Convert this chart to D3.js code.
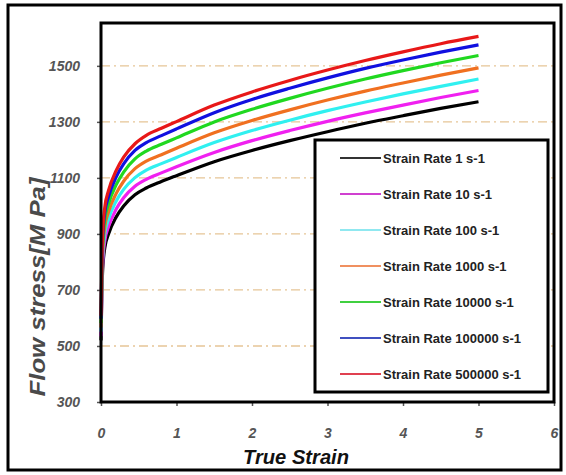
<!DOCTYPE html>
<html>
<head>
<meta charset="utf-8">
<script src="https://cdn.jsdelivr.net/npm/d3@7"></script>
<style>
  body { margin: 0; background: #fff; }
  svg text { font-family: "Liberation Sans", Arial, sans-serif; }
</style>
</head>
<body>
<div id="canvas"></div>
<script>
"use strict"

let strain = [0, 0.02, 0.05, 0.1, 0.2, 0.3, 0.45, 0.6, 0.8, 1, 1.5, 2, 2.5, 3, 3.5, 4, 4.5, 5]

/* flow stress for each strain rate (MPa) */
let rate1      = [520, 760, 850, 900, 960, 1000, 1040, 1064, 1087, 1108, 1158, 1198, 1233, 1265, 1295, 1322, 1348, 1372]
let rate10     = [535, 782, 875, 926, 988, 1029, 1070, 1095, 1118, 1140, 1191, 1233, 1269, 1302, 1332, 1360, 1387, 1412]
let rate100    = [551, 805, 900, 953, 1017, 1059, 1101, 1128, 1151, 1173, 1226, 1269, 1306, 1340, 1371, 1400, 1427, 1453]
let rate1000   = [566, 827, 925, 979, 1044, 1088, 1133, 1160, 1183, 1206, 1261, 1305, 1343, 1378, 1410, 1439, 1467, 1493]
let rate10000  = [582, 851, 952, 1008, 1075, 1121, 1168, 1196, 1220, 1243, 1300, 1345, 1384, 1420, 1453, 1483, 1511, 1537]
let rate100000 = [597, 872, 976, 1033, 1103, 1150, 1198, 1226, 1251, 1275, 1333, 1380, 1420, 1457, 1491, 1521, 1549, 1575]
let rate500000 = [608, 889, 995, 1055, 1126, 1174, 1222, 1252, 1277, 1301, 1360, 1407, 1448, 1485, 1519, 1550, 1579, 1605]

let seriesNames = ["Strain Rate 1 s-1", "Strain Rate 10 s-1", "Strain Rate 100 s-1", "Strain Rate 1000 s-1",
                   "Strain Rate 10000 s-1", "Strain Rate 100000 s-1", "Strain Rate 500000 s-1"]
let seriesValues = [rate1, rate10, rate100, rate1000, rate10000, rate100000, rate500000]
let seriesColors = ["#000000", "#f020f0", "#30f0f0", "#f07020", "#20d820", "#1010e0", "#e81818"]
let legendColors = ["#333333", "#d040d0", "#90e8f0", "#f09060", "#40d040", "#4050c0", "#e04050"]

let xTicks = [0, 1, 2, 3, 4, 5, 6]
let yTicks = [300, 500, 700, 900, 1100, 1300, 1500]
let gridValues = [500, 700, 900, 1100, 1300, 1500]

let width = 566
let height = 475

let drawing = d3.select("#canvas")
    .append("svg")
    .attr("width", width)
    .attr("height", height)

/* outer frame */
drawing.append("rect")
    .attr("x", 8)
    .attr("y", 5)
    .attr("width", 553)
    .attr("height", 465)
    .attr("fill", "white")
    .attr("stroke", "black")
    .attr("stroke-width", 3)

let plotLeft = 101, plotRight = 554, plotTop = 23, plotBottom = 402

let x = d3.scaleLinear().domain([0, 6]).range([plotLeft, plotRight])
let y = d3.scaleLinear().domain([300, 1653]).range([plotBottom, plotTop])

/* dash-dot grid lines */
drawing.selectAll(".grid")
    .data(gridValues)
    .enter()
    .append("line")
    .attr("x1", plotLeft)
    .attr("x2", plotRight)
    .attr("y1", d => y(d))
    .attr("y2", d => y(d))
    .attr("stroke", "#e6c596")
    .attr("stroke-width", 1.3)
    .attr("stroke-dasharray", "9,4,2,4")

/* ticks + labels via d3 axes */
let xAxis = drawing.append("g")
    .attr("transform", "translate(0," + plotBottom + ")")
    .call(d3.axisBottom(x).tickValues(xTicks).tickSize(4).tickPadding(22).tickFormat(d3.format("d")))
let yAxis = drawing.append("g")
    .attr("transform", "translate(" + plotLeft + ",0)")
    .call(d3.axisLeft(y).tickValues(yTicks).tickSize(4).tickPadding(17).tickFormat(d3.format("d")))

xAxis.select(".domain").remove()
yAxis.select(".domain").remove()
drawing.selectAll(".tick line").attr("stroke", "#555").attr("stroke-width", 1.5)
drawing.selectAll(".tick text")
    .attr("font-size", 14)
    .attr("font-style", "italic")
    .attr("font-weight", "bold")
    .attr("fill", "#555")

/* curves */
let line = d3.line()
    .x((d, i) => x(strain[i]))
    .y(d => y(d))
    .curve(d3.curveMonotoneX)

drawing.selectAll(".curve")
    .data(seriesValues)
    .enter()
    .append("path")
    .attr("d", d => line(d))
    .attr("fill", "none")
    .attr("stroke", (d, i) => seriesColors[i])
    .attr("stroke-width", 3.2)

/* plot frame */
drawing.append("rect")
    .attr("x", plotLeft)
    .attr("y", plotTop)
    .attr("width", plotRight - plotLeft)
    .attr("height", plotBottom - plotTop)
    .attr("fill", "none")
    .attr("stroke", "black")
    .attr("stroke-width", 3)

/* legend */
let legendX = 315, legendY = 140
drawing.append("rect")
    .attr("x", legendX)
    .attr("y", legendY)
    .attr("width", 233)
    .attr("height", 252)
    .attr("fill", "white")
    .attr("stroke", "black")
    .attr("stroke-width", 3)

let legendRows = drawing.selectAll(".legendRow")
    .data(seriesNames)
    .enter()
    .append("g")
    .attr("transform", (d, i) => "translate(0," + (158 + i * 36) + ")")

legendRows.append("line")
    .attr("x1", 340)
    .attr("x2", 381)
    .attr("y1", 0)
    .attr("y2", 0)
    .attr("stroke", (d, i) => legendColors[i])
    .attr("stroke-width", 2.2)

legendRows.append("text")
    .attr("x", 383)
    .attr("y", 4.5)
    .attr("font-size", 13)
    .attr("font-weight", "bold")
    .attr("fill", "#222")
    .text(d => d)

/* axis titles */
drawing.append("text")
    .attr("transform", "translate(45,287) rotate(-90)")
    .attr("text-anchor", "middle")
    .attr("font-size", 22)
    .attr("font-style", "italic")
    .attr("font-weight", "bold")
    .attr("fill", "#4a4a4a")
    .attr("textLength", 219)
    .attr("lengthAdjust", "spacingAndGlyphs")
    .text("Flow stress[M Pa]")

drawing.append("text")
    .attr("x", 296)
    .attr("y", 464)
    .attr("text-anchor", "middle")
    .attr("font-size", 20)
    .attr("font-style", "italic")
    .attr("font-weight", "bold")
    .attr("fill", "#111")
    .attr("textLength", 106)
    .attr("lengthAdjust", "spacingAndGlyphs")
    .text("True Strain")
</script>
</body>
</html>
